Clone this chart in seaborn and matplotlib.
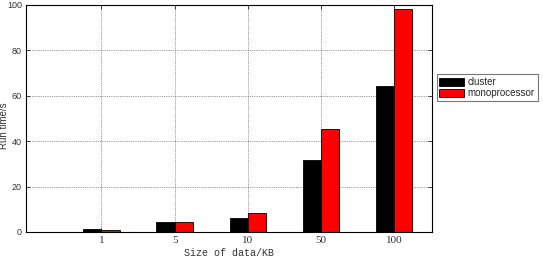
import matplotlib
matplotlib.use("Agg")
import matplotlib.pyplot as plt
import seaborn as sns
import pandas as pd

sizes = ["1", "5", "10", "50", "100"]
cluster = [1.2, 4.3, 6.3, 31.5, 64.2]
monoprocessor = [1.0, 4.3, 8.3, 45.3, 98.2]
series_names = ["cluster", "monoprocessor"]
colors = ["#000000", "#ff0000"]

df = pd.DataFrame({
    "size": sizes * 2,
    "time": cluster + monoprocessor,
    "series": [series_names[0]] * len(sizes) + [series_names[1]] * len(sizes),
})

sns.set_style("white")
fig = plt.figure(figsize=(5.43, 2.58), dpi=100)
ax = fig.add_axes([0.048, 0.101, 0.748, 0.880])

sns.barplot(data=df, x="size", y="time", hue="series", order=sizes,
            hue_order=series_names, palette=colors, width=0.5, saturation=1,
            edgecolor="black", linewidth=0.6, ax=ax, legend=True)

ax.set_xlim(-1.03, 4.52)
ax.set_ylim(0, 100)
ax.set_yticks([0, 20, 40, 60, 80, 100])
ax.grid(True, linestyle=(0, (1, 1.2)), color="#777777", linewidth=0.6)
ax.set_axisbelow(True)
for s in ax.spines.values():
    s.set_visible(True)
    s.set_color("black")
    s.set_linewidth(0.8)
ax.tick_params(direction="in", length=3, width=0.6, top=True, right=True,
               bottom=True, left=True, pad=3)
for lab in ax.get_yticklabels():
    lab.set_fontfamily("Liberation Sans")
    lab.set_fontsize(6.5)
    lab.set_color("#333333")
for lab in ax.get_xticklabels():
    lab.set_fontfamily("Liberation Serif")
    lab.set_fontsize(8)
    lab.set_color("#333333")

ax.set_xlabel("Size of data/KB", fontfamily="Liberation Mono", fontsize=7.2,
              color="#333333", labelpad=2)
ax.set_ylabel("Run time/s", fontfamily="Liberation Sans", fontsize=7,
              color="#333333")
ax.yaxis.set_label_coords(-0.043, 0.47)

handles, labels = ax.get_legend_handles_labels()
ax.legend(handles, labels, loc="center left", bbox_to_anchor=(0.804, 0.66),
          bbox_transform=fig.transFigure, frameon=True, fancybox=False,
          edgecolor="#555555", prop={"family": "Liberation Sans", "size": 7},
          handlelength=2.5, handleheight=0.9, borderpad=0.3, labelspacing=0.1,
          handletextpad=0.4, borderaxespad=0)
ax.get_legend().get_frame().set_linewidth(0.8)

fig.savefig("out.png", dpi=100)
